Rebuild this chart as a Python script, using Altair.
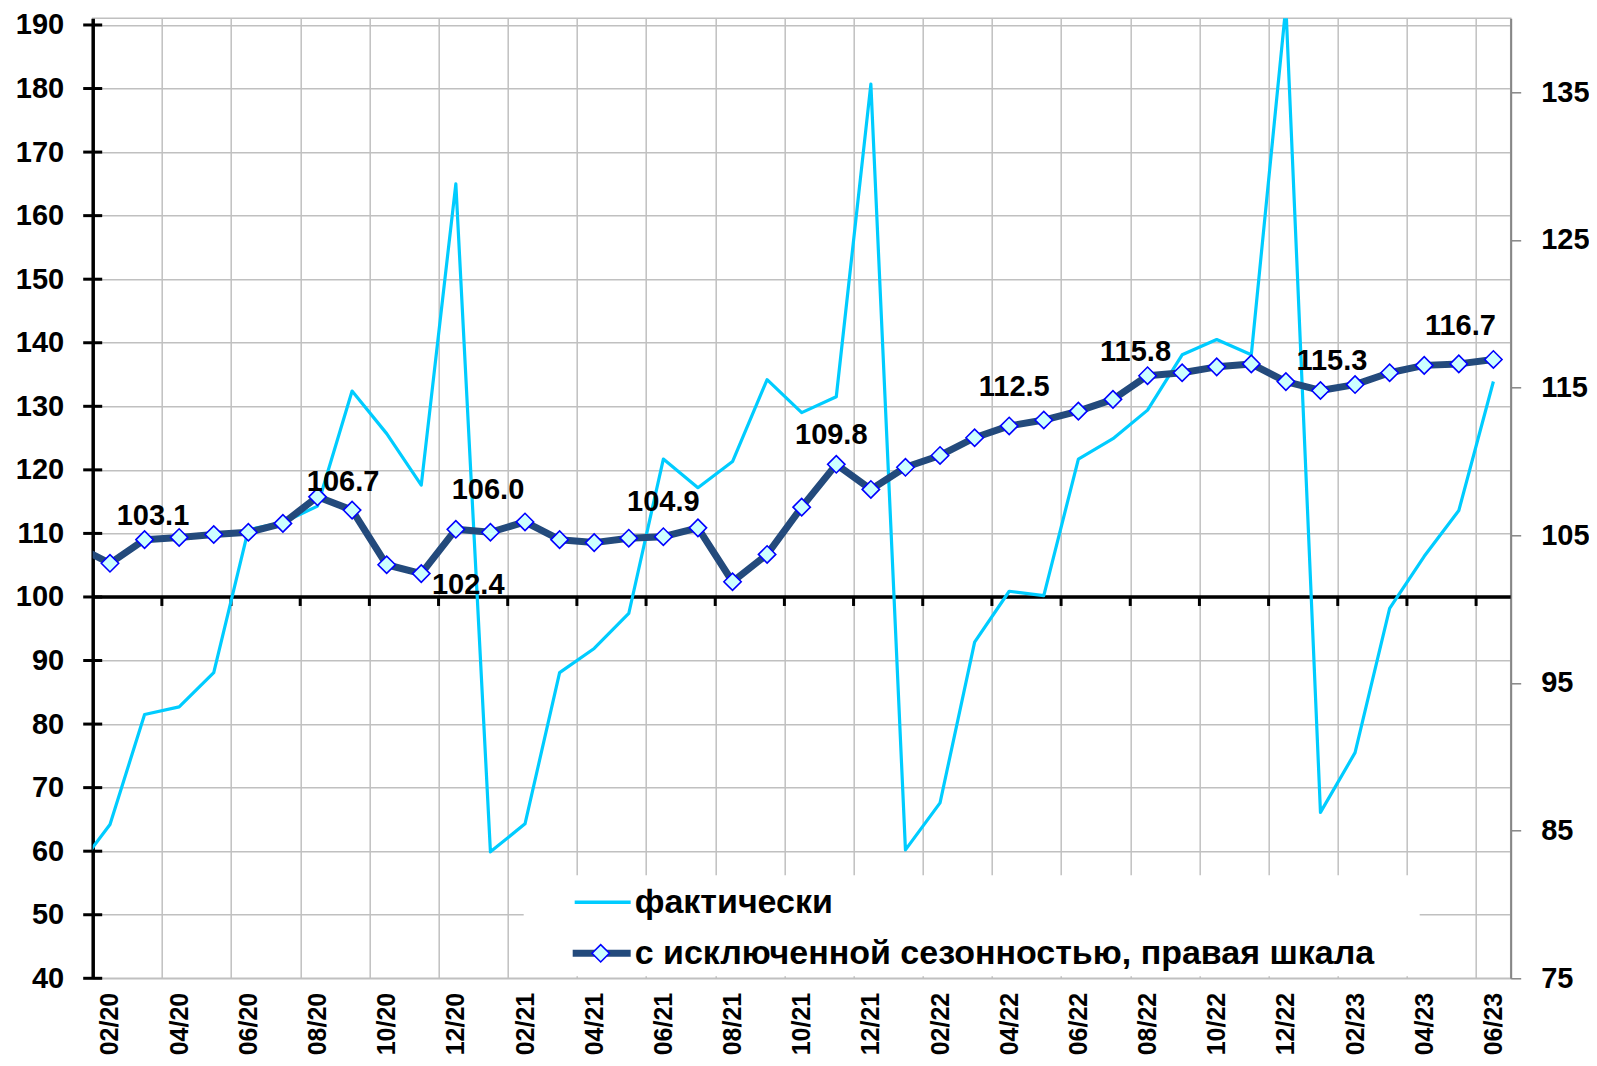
import altair as alt
import pandas as pd

# ---------------- data ----------------
months = ["01/20", "02/20", "03/20", "04/20", "05/20", "06/20", "07/20", "08/20", "09/20", "10/20", "11/20", "12/20",
          "01/21", "02/21", "03/21", "04/21", "05/21", "06/21", "07/21", "08/21", "09/21", "10/21", "11/21", "12/21",
          "01/22", "02/22", "03/22", "04/22", "05/22", "06/22", "07/22", "08/22", "09/22", "10/22", "11/22", "12/22",
          "01/23", "02/23", "03/23", "04/23", "05/23", "06/23"]

# "фактически" (left axis)
actual = [57.0, 64.2, 81.5, 82.7, 88.1, 110.6, 111.7, 114.3, 132.4, 125.7, 117.6, 165.0,
          59.9, 64.3, 88.1, 91.9, 97.4, 121.7, 117.2, 121.3, 134.2, 129.0, 131.5, 180.7,
          60.2, 67.6, 92.9, 100.9, 100.2, 121.7, 124.9, 129.4, 138.1, 140.5, 138.1, 193.0,
          66.1, 75.5, 98.2, 106.4, 113.6, 133.9]

# "с исключенной сезонностью" (right axis)
seas_adj = [104.3, 103.1, 104.7, 104.85, 105.05, 105.2, 105.8, 107.6, 106.7, 103.0, 102.4, 105.4,
            105.2, 105.9, 104.7, 104.5, 104.8, 104.9, 105.5, 101.85, 103.7, 106.9, 109.8, 108.1,
            109.6, 110.4, 111.6, 112.4, 112.8, 113.4, 114.2, 115.8, 116.0, 116.4, 116.6, 115.4,
            114.8, 115.2, 116.0, 116.5, 116.6, 116.9]

# data labels: month, text, pixel offsets
label_months = ["02/20", "09/20", "11/20", "02/21", "06/21", "11/21", "04/22", "08/22", "12/22", "06/23"]
label_texts = ["103.1", "106.7", "102.4", "106.0", "104.9", "109.8", "112.5", "115.8", "115.3", "116.7"]
label_dx = [43, -9, 47, -37, 0, -5, 5, -12, 46, -33]
label_dy = [-38, -19, 20, -23, -26, -20, -30, -15, -12, -24]

left_ticks = list(range(40, 191, 10))
right_ticks = [75, 85, 95, 105, 115, 125, 135]
left_domain = [40, 191.05]
right_domain = [75, 140]
x_domain = [0.5, 41.5]
grid_positions = [2.5 + 2 * k for k in range(20)]
label_positions = list(range(1, 42, 2))

legend_names = ["фактически", "с исключенной сезонностью, правая шкала"]

# ---------------- tables ----------------
df = pd.DataFrame({"i": list(range(len(months))), "month": months,
                   "actual": actual, "sa": seas_adj})
lab = pd.DataFrame({"month": label_months, "text": label_texts,
                    "dx": label_dx, "dy": label_dy})
lab = lab.merge(df[["month", "i", "sa"]], on="month")
grid_df = pd.DataFrame({"g": grid_positions})
lt_df = pd.DataFrame({"v": left_ticks})
one = pd.DataFrame({"k": [0]})

FONT = "Liberation Sans"
CYAN = "#00CCFF"
DARK = "#234A7C"
label_expr = "[" + ",".join("'%s'" % m for m in months) + "][datum.value]"

xs = alt.Scale(domain=x_domain, nice=False, zero=False)
ls = alt.Scale(domain=left_domain, nice=False, zero=False)
rs = alt.Scale(domain=right_domain, nice=False, zero=False)

# ---------------- left group ----------------
left_line = alt.Chart(df).mark_line(color=CYAN, strokeWidth=3.2, clip=True, strokeJoin="round").encode(
    x=alt.X("i:Q", scale=xs,
            axis=alt.Axis(orient="bottom", values=grid_positions, grid=True, labels=False, ticks=False,
                          domain=False, title=None, gridColor="#C0C0C0", gridWidth=1.5)),
    y=alt.Y("actual:Q", scale=ls,
            axis=alt.Axis(orient="left", values=left_ticks, grid=True, gridColor="#C0C0C0", gridWidth=1.5,
                          ticks=False, tickSize=0, labelPadding=29, domainColor="black",
                          domainWidth=3.5, labelFont=FONT, labelFontSize=29,
                          labelFontWeight="bold", labelColor="black", title=None)),
)

legend_box = alt.Chart(one).mark_rect(color="white").encode(
    x=alt.value(431), x2=alt.value(1327), y=alt.value(857), y2=alt.value(958))

zero_rule = alt.Chart(one).mark_rule(color="black", strokeWidth=3.5).encode(
    x=alt.value(0), x2=alt.value(1418), y=alt.datum(100, scale=ls))

down_ticks = alt.Chart(grid_df).mark_tick(orient="vertical", color="black", size=9,
                                          thickness=3, yOffset=4.5, opacity=1).encode(
    x=alt.X("g:Q", scale=xs), y=alt.datum(100, scale=ls))

cross_ticks = alt.Chart(lt_df).mark_tick(orient="horizontal", color="black", size=19,
                                         thickness=3, opacity=1).encode(
    x=alt.value(0), y=alt.Y("v:Q", scale=ls))

left_group = alt.layer(legend_box, zero_rule, down_ticks, cross_ticks, left_line)

# ---------------- right group ----------------
right_line = alt.Chart(df).mark_line(color=DARK, strokeWidth=7, clip=True, strokeJoin="round").encode(
    x=alt.X("i:Q", scale=xs,
            axis=alt.Axis(orient="bottom", values=label_positions, labelExpr=label_expr, grid=False,
                          ticks=False, tickSize=0, domain=False, labelAngle=-90, labelPadding=14,
                          labelFont=FONT, labelFontSize=25, labelFontWeight="bold",
                          labelColor="black", title=None, labelOverlap=False)),
    y=alt.Y("sa:Q", scale=rs,
            axis=alt.Axis(orient="right", values=right_ticks, grid=False, tickSize=10,
                          tickColor="#868686", tickWidth=1.5, domainColor="#868686",
                          domainWidth=2, labelPadding=20, labelFont=FONT, labelFontSize=29,
                          labelFontWeight="bold", labelColor="black", title=None)),
)

points = alt.Chart(df).mark_point(shape="diamond", filled=True, fill="#CCFFFF", stroke="#0000FF",
                                  strokeWidth=1.6, size=300, opacity=1, clip=True).encode(
    x=alt.X("i:Q", scale=xs), y=alt.Y("sa:Q", scale=rs))

label_layers = []
for _, row in lab.iterrows():
    label_layers.append(
        alt.Chart(lab[lab["month"] == row["month"]]).mark_text(
            font=FONT, fontSize=29, fontWeight="bold", color="black",
            align="center", baseline="alphabetic", dx=int(row["dx"]), dy=int(row["dy"])
        ).encode(x=alt.X("i:Q", scale=xs), y=alt.Y("sa:Q", scale=rs), text="text:N")
    )

# legend items
leg_line1 = alt.Chart(one).mark_rule(color=CYAN, strokeWidth=3.5).encode(
    x=alt.value(482), x2=alt.value(538), y=alt.value(884))
leg_text1 = alt.Chart(one).mark_text(font=FONT, fontSize=34, fontWeight="bold", color="black",
                                     align="left", baseline="middle").encode(
    x=alt.value(542), y=alt.value(885), text=alt.value(legend_names[0]))
leg_line2 = alt.Chart(one).mark_rule(color=DARK, strokeWidth=7).encode(
    x=alt.value(480), x2=alt.value(538), y=alt.value(935))
leg_pt2 = alt.Chart(one).mark_point(shape="diamond", filled=True, fill="#CCFFFF", stroke="#0000FF",
                                    strokeWidth=1.6, size=300, opacity=1).encode(
    x=alt.value(508), y=alt.value(935))
leg_text2 = alt.Chart(one).mark_text(font=FONT, fontSize=34, fontWeight="bold", color="black",
                                     align="left", baseline="middle").encode(
    x=alt.value(542), y=alt.value(936), text=alt.value(legend_names[1]))

right_group = alt.layer(right_line, points, *label_layers,
                        leg_line1, leg_text1, leg_line2, leg_pt2, leg_text2)

chart = alt.layer(left_group, right_group).resolve_scale(y="independent").resolve_axis(
    x="independent", y="independent"
).properties(
    width=1418, height=960,
    autosize=alt.AutoSizeParams(type="none"),
    padding={"left": 84.7, "top": 10.3, "right": 78, "bottom": 79},
    background="white",
).configure_view(stroke="#C0C0C0", strokeWidth=1.5)

chart.save("out.html", embed_options={"renderer": "svg", "actions": False})
